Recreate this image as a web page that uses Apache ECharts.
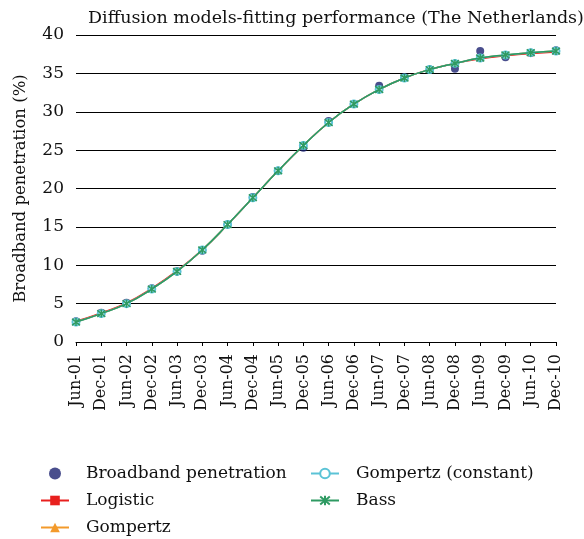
<!DOCTYPE html>
<html>
<head>
<meta charset="utf-8">
<script src="https://cdn.jsdelivr.net/npm/echarts@6/dist/echarts.min.js"></script>
<style>
  html, body { margin: 0; padding: 0; background: #fff; }
  #chart { width: 584px; height: 539px; }
</style>
</head>
<body>
<div id="chart"></div>
<script>
// half-year observations
var periods = ["Jun-01", "Dec-01", "Jun-02", "Dec-02", "Jun-03", "Dec-03", "Jun-04", "Dec-04",
  "Jun-05", "Dec-05", "Jun-06", "Dec-06", "Jun-07", "Dec-07", "Jun-08", "Dec-08",
  "Jun-09", "Dec-09", "Jun-10", "Dec-10"];

var broadband = [2.7, 3.8, 5.1, 7.0, 9.2, 11.9, 15.3, 18.9, 22.3, 25.3,
  28.8, 31.0, 33.4, 34.5, 35.5, 35.6, 37.9, 37.1, 37.7, 38.0];

var logistic = [2.7, 3.8, 5.1, 7.0, 9.3, 12.0, 15.3, 18.8, 22.3, 25.6,
  28.6, 31.0, 32.9, 34.4, 35.5, 36.3, 36.9, 37.3, 37.6, 37.8];
var gompertz = [2.6, 3.7, 5.0, 6.9, 9.2, 12.0, 15.3, 18.8, 22.3, 25.6,
  28.6, 31.0, 32.9, 34.4, 35.5, 36.3, 37.0, 37.4, 37.7, 37.9];
var gompertzConst = [2.6, 3.7, 5.0, 6.9, 9.2, 12.0, 15.3, 18.8, 22.3, 25.6,
  28.6, 31.0, 32.9, 34.4, 35.5, 36.3, 37.0, 37.4, 37.7, 37.9];
var bass = [2.6, 3.7, 5.0, 6.9, 9.2, 12.0, 15.3, 18.8, 22.3, 25.6,
  28.6, 31.0, 32.9, 34.4, 35.5, 36.3, 37.0, 37.4, 37.7, 37.9];

var yTicks = [0, 5, 10, 15, 20, 25, 30, 35, 40];

var serif = "DejaVu Serif";
var starSymbol = "path://M0,0 L10,10 M10,0 L0,10 M5,-1 L5,11";

var legendBase = {
  orient: "vertical",
  top: 463,
  padding: 0,
  itemWidth: 28,
  itemHeight: 12,
  itemGap: 6,
  textStyle: { fontFamily: serif, fontSize: 17, lineHeight: 21, color: "#111", padding: [0, 0, 0, 12] }
};

var chart = echarts.init(document.getElementById("chart"));
chart.setOption({
  animation: false,
  title: {
    text: "Diffusion models-fitting performance (The Netherlands)",
    left: 331,
    textAlign: "center",
    top: 4,
    textStyle: { fontFamily: serif, fontWeight: "normal", fontSize: 17.5, color: "#111" }
  },
  grid: { left: 76, right: 28, top: 35, bottom: 197 },
  legend: [
    Object.assign({}, legendBase, { left: 40, data: ["Broadband penetration", "Logistic", "Gompertz"] }),
    Object.assign({}, legendBase, { left: 310, data: ["Gompertz (constant)", "Bass"] })
  ],
  xAxis: {
    type: "category",
    data: periods,
    boundaryGap: false,
    axisLine: { lineStyle: { color: "#000", width: 1 } },
    axisTick: { show: true, alignWithLabel: true, length: 4, lineStyle: { color: "#000" } },
    axisLabel: { rotate: 90, interval: 0, fontFamily: serif, fontSize: 16, color: "#111", margin: 12 }
  },
  yAxis: {
    type: "value",
    min: 0,
    max: 40,
    interval: 5,
    name: "Broadband penetration (%)",
    nameLocation: "middle",
    nameGap: 47,
    nameTextStyle: { fontFamily: serif, fontSize: 16.5, color: "#111" },
    axisLine: { show: false },
    axisTick: { show: false },
    axisLabel: {
      fontFamily: serif, fontSize: 17, color: "#111", margin: 12,
      formatter: function (v) { return yTicks.indexOf(v) >= 0 ? String(v) : ""; }
    },
    splitLine: { lineStyle: { color: "#000", width: 1 } }
  },
  series: [
    {
      name: "Broadband penetration",
      type: "scatter",
      data: broadband,
      symbol: "circle",
      symbolSize: 8,
      itemStyle: { color: "#1b2270" },
      z: 2
    },
    {
      name: "Logistic",
      type: "line",
      data: logistic,
      smooth: true,
      symbol: "rect",
      symbolSize: 6,
      lineStyle: { color: "#e8201e", width: 1.5 },
      itemStyle: { color: "#e8201e" },
      z: 3
    },
    {
      name: "Gompertz",
      type: "line",
      data: gompertz,
      smooth: true,
      symbol: "triangle",
      symbolSize: 6,
      lineStyle: { color: "#f39a2b", width: 1.5 },
      itemStyle: { color: "#f39a2b" },
      z: 4
    },
    {
      name: "Gompertz (constant)",
      type: "line",
      data: gompertzConst,
      smooth: true,
      symbol: "emptyCircle",
      symbolSize: 7,
      lineStyle: { color: "#5bc3d6", width: 1.5 },
      itemStyle: { color: "#5bc3d6", borderWidth: 1 },
      z: 5
    },
    {
      name: "Bass",
      type: "line",
      data: bass,
      smooth: true,
      symbol: starSymbol,
      symbolSize: 8,
      showAllSymbol: true,
      lineStyle: { color: "#2e9a62", width: 1.5 },
      itemStyle: { color: "#2e9a62", borderColor: "#2e9a62", borderWidth: 1.5 },
      z: 6
    }
  ]
});
</script>
</body>
</html>
